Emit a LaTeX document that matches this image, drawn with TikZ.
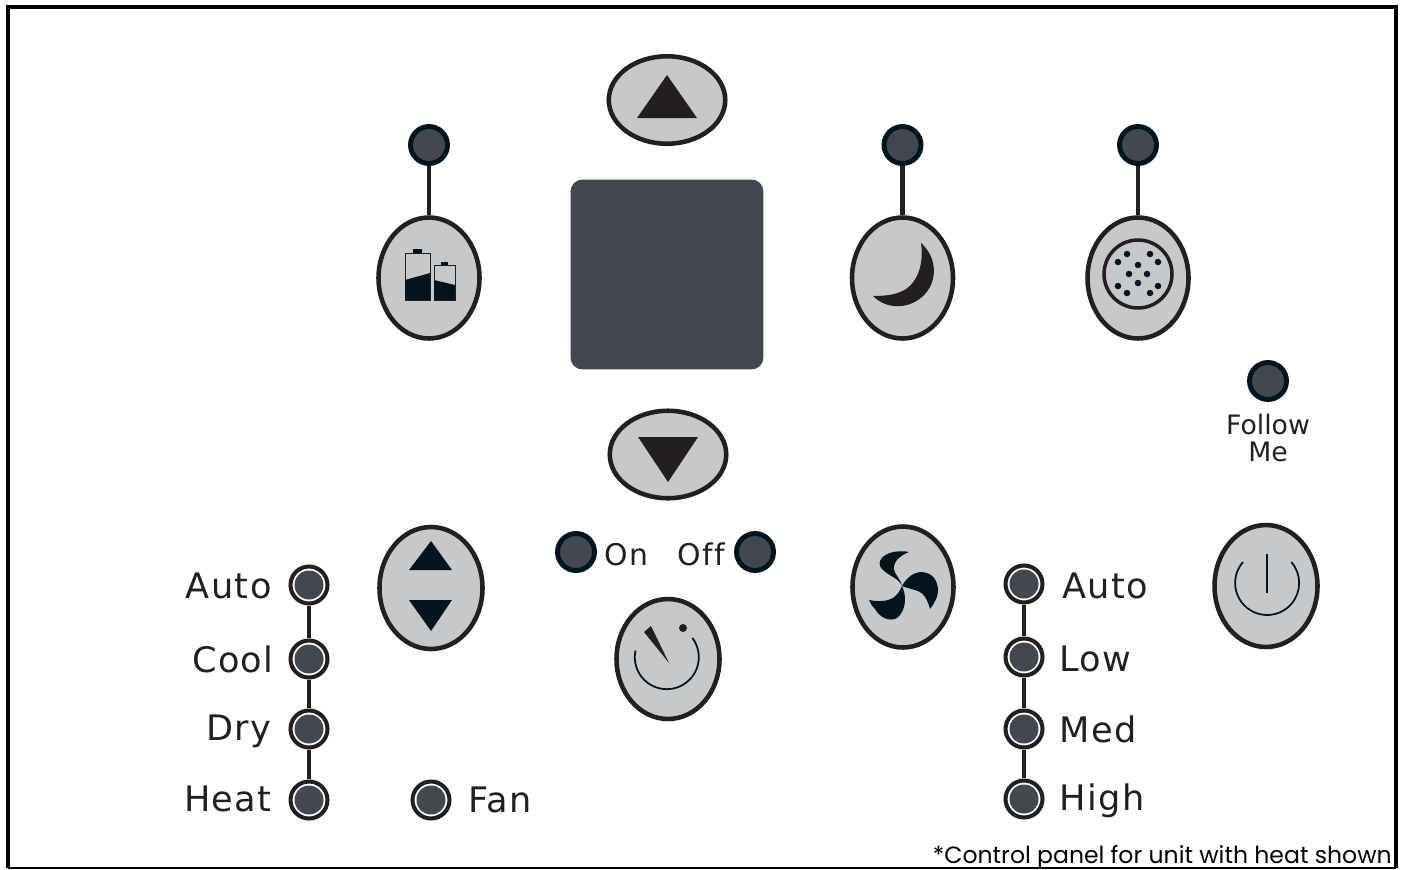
\documentclass[tikz,border=0pt]{standalone}
\usepackage{fontspec}
\usepackage{tikz}
\setmainfont{DejaVu Sans}
\newfontfamily\lblfont[LetterSpace=4,Ligatures=NoCommon]{DejaVu Sans}
\newfontfamily\plainfont[Ligatures=NoCommon]{DejaVu Sans}
\newfontfamily\notefont{Poppins}
\definecolor{ink}{HTML}{231F20}
\definecolor{navy}{HTML}{04141F}
\definecolor{slate}{HTML}{434750}
\definecolor{btngray}{HTML}{C7C8CA}
\usetikzlibrary{shapes.geometric}
\pgfdeclarelayer{edgelayer}
\pgfdeclarelayer{nodelayer}
\pgfsetlayers{edgelayer,nodelayer,main}
\tikzstyle{btn}=[ellipse,fill=btngray,draw=ink,line width=2.6pt,inner sep=0pt,minimum width=2.02cm,minimum height=2.42cm]
\tikzstyle{arrowbtn}=[btn,minimum width=2.33cm,minimum height=1.75cm]
\tikzstyle{led}=[circle,fill=slate,draw=navy,line width=2.8pt,inner sep=0pt,minimum size=0.74cm]
\tikzstyle{lamp}=[circle,fill=white,draw=ink,line width=2.3pt,inner sep=0pt,minimum size=0.74cm,
  path picture={\fill [slate] (path picture bounding box.center) circle (0.29cm);}]
\tikzstyle{screen}=[rectangle,fill=slate,rounded corners=0.24cm,inner sep=0pt,minimum width=3.86cm,minimum height=3.8cm]
\tikzstyle{lbl}=[text=ink,font=\lblfont\fontsize{20}{20}\selectfont,inner sep=0pt]
\tikzstyle{onofflbl}=[text=ink,font=\lblfont\fontsize{17}{17}\selectfont,inner sep=0pt]
\tikzstyle{smalllbl}=[text=ink,font=\plainfont\fontsize{15.2}{15.2}\selectfont,inner sep=0pt]
\tikzstyle{wire}=[ink,line width=2.3pt]
\begin{document}
\begin{tikzpicture}[x=0.02cm,y=-0.02cm]
    \useasboundingbox (0, 0) rectangle (1402, 869);
    % frame
    \draw [black, line width=2.2pt] (8, 868) -- (8, 7) -- (1396, 7) -- (1396, 868);
    \draw [black, line width=1.1pt] (8, 868) -- (1396, 868);

    \begin{pgfonlayer}{nodelayer}
        \node [style = screen] (screen) at (667, 274.5) {};
        \node [style = arrowbtn] (up) at (667, 100) {};
        \node [style = arrowbtn] (down) at (668, 454.5) {};

        \node [style = btn] (battery) at (429, 278) {};
        \node [style = btn] (moon) at (902.5, 278) {};
        \node [style = btn] (filter) at (1138, 278) {};
        \node [style = btn, minimum width=2.06cm, minimum height=2.44cm] (mode) at (431, 588) {};
        \node [style = btn, minimum width=2.06cm, minimum height=2.4cm] (timer) at (668, 659) {};
        \node [style = btn] (fan) at (903, 587) {};
        \node [style = btn, minimum width=2.06cm, minimum height=2.44cm] (power) at (1266, 586) {};

        \node [style = led] (ledbattery) at (429, 145) {};
        \node [style = led] (ledmoon) at (902.5, 145) {};
        \node [style = led] (ledfilter) at (1138, 145) {};
        \node [style = led] (ledfollow) at (1268, 381) {};
        \node [style = led] (ledon) at (576, 552) {};
        \node [style = led] (ledoff) at (755, 552) {};

        \node [style = lamp] (modeauto) at (309, 585) {};
        \node [style = lamp] (modecool) at (309, 659) {};
        \node [style = lamp] (modedry) at (309, 729) {};
        \node [style = lamp] (modeheat) at (309, 800) {};
        \node [style = lamp] (modefan) at (431, 800) {};

        \node [style = lamp] (speedauto) at (1024, 584) {};
        \node [style = lamp] (speedlow) at (1024, 657) {};
        \node [style = lamp] (speedmed) at (1024, 729) {};
        \node [style = lamp] (speedhigh) at (1024, 799) {};

        \node [style = lbl, anchor=base east] (tauto) at (272, 598) {Auto};
        \node [style = lbl, anchor=base east] (tcool) at (274, 672) {Cool};
        \node [style = lbl, anchor=base east] (tdry) at (272, 740) {Dry};
        \node [style = lbl, anchor=base east] (theat) at (272, 811) {Heat};
        \node [style = lbl, anchor=base west] (tfan) at (468, 812) {Fan};
        \node [style = lbl, anchor=base west] (tsauto) at (1062, 598) {Auto};
        \node [style = lbl, anchor=base west] (tlow) at (1059, 671) {Low};
        \node [style = lbl, anchor=base west] (tmed) at (1059, 742) {Med};
        \node [style = lbl, anchor=base west] (thigh) at (1059, 810) {High};
        \node [style = onofflbl, anchor=base west] (ton) at (604, 565) {On};
        \node [style = onofflbl, anchor=base east] (toff) at (725, 565) {Off};
        \node [style = smalllbl, anchor=base] (tfollow) at (1268, 434) {Follow};
        \node [style = smalllbl, anchor=base] (tme) at (1268, 461) {Me};
        \node [anchor=base east, inner sep=0pt, text=black, font=\notefont\fontsize{13.4}{13.4}\selectfont] (tnote) at (1392, 863) {*Control panel for unit with heat shown};

        % button icons
        \fill [ink] (637, 118) -- (697, 118) -- (667, 75) -- cycle;
        \fill [ink] (638, 437) -- (698, 437) -- (668, 482) -- cycle;
        \fill [navy] (409, 570) -- (452, 570) -- (431, 541) -- cycle;
        \fill [navy] (409, 600) -- (452, 600) -- (431, 631) -- cycle;

        % batteries
        \draw [ink, line width=0.5pt] (405, 253) rectangle (430, 300);
        \fill [navy] (413, 249) rectangle (422, 253);
        \fill [navy] (405, 280) -- (430, 273) -- (430, 300) -- (405, 300) -- cycle;
        \draw [ink, line width=0.5pt] (434, 265) rectangle (455, 300);
        \fill [navy] (441, 262) rectangle (448, 265);
        \fill [navy] (434, 280) -- (455, 285) -- (455, 300) -- (434, 300) -- cycle;

        % moon
        \fill [ink] (921, 243) .. controls (938, 258) and (938, 283) .. (922, 297)
            .. controls (908, 309) and (887, 310) .. (873, 296)
            .. controls (892, 296) and (906, 293) .. (914, 281)
            .. controls (921, 271) and (923, 257) .. (921, 243) -- cycle;

        % filter
        \draw [ink, line width=2pt] (1138, 274) circle (0.68cm);
        \foreach \dotx/\doty in {1127/254, 1150/254, 1118/262, 1158/262, 1138/265, 1129/274,
            1147/274, 1118/286, 1158/286, 1138/283, 1127/293, 1150/293}
            \fill [navy] (\dotx, \doty) circle (0.065cm);

        % timer
        \draw [navy, line width=1pt] (635.5, 650.5) arc [start angle=168, end angle=397, radius=0.64cm];
        \fill [ink] (644, 632) -- (651, 626) -- (669, 663) -- cycle;
        \fill [ink] (683, 628) circle (0.08cm);

        % fan
        \fill [navy] (902, 586) .. controls (899, 578) and (888, 576) .. (881, 568)
            .. controls (877, 561) and (882, 555) .. (893, 552)
            .. controls (899, 551) and (905, 551) .. (909, 552)
            .. controls (899, 556) and (893, 562) .. (894, 570)
            .. controls (896, 576) and (901, 580) .. (902, 586) -- cycle;
        \fill [navy] (902, 586) .. controls (907, 577) and (914, 572) .. (922, 572)
            .. controls (933, 573) and (938, 581) .. (938, 591)
            .. controls (938, 597) and (934, 604) .. (930, 609)
            .. controls (928, 601) and (924, 593) .. (918, 591)
            .. controls (912, 589) and (907, 588) .. (902, 586) -- cycle;
        \fill [navy] (902, 586) .. controls (907, 596) and (906, 611) .. (897, 618)
            .. controls (890, 622) and (880, 618) .. (875, 609)
            .. controls (872, 606) and (870, 603) .. (869, 600)
            .. controls (879, 602) and (888, 601) .. (893, 598)
            .. controls (897, 595) and (900, 591) .. (902, 586) -- cycle;

        % power
        \draw [navy, line width=1pt] (1243, 562) arc [start angle=139, end angle=401, radius=0.64cm];
        \draw [navy, line width=1.2pt] (1267, 554) -- (1267, 593);
    \end{pgfonlayer}

    \begin{pgfonlayer}{edgelayer}
        \draw [style = wire] (ledbattery) to (battery);
        \draw [style = wire] (ledmoon) to (moon);
        \draw [style = wire] (ledfilter) to (filter);

        \draw [style = wire] (modeauto) to (modecool);
        \draw [style = wire] (modecool) to (modedry);
        \draw [style = wire] (modedry) to (modeheat);

        \draw [style = wire] (speedauto) to (speedlow);
        \draw [style = wire] (speedlow) to (speedmed);
        \draw [style = wire] (speedmed) to (speedhigh);
    \end{pgfonlayer}
\end{tikzpicture}
\end{document}
